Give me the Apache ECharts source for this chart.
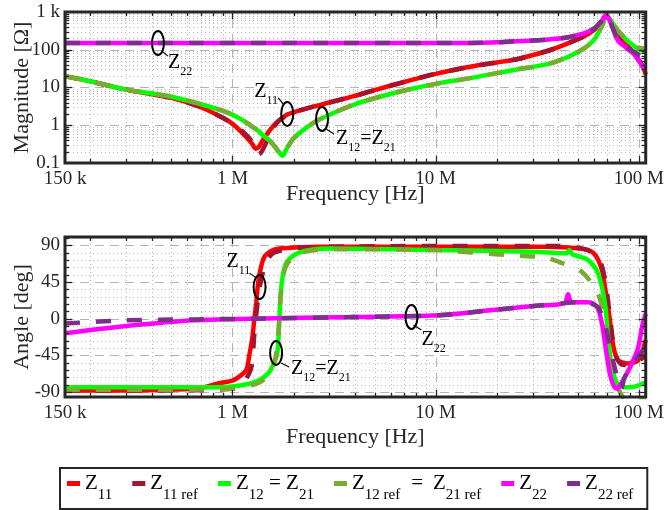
<!DOCTYPE html>
<html>
<head>
<meta charset="utf-8">
<script src="https://cdn.jsdelivr.net/npm/echarts@6/dist/echarts.min.js"></script>
<style>
  html, body { margin: 0; padding: 0; background: #fff; }
  #chart { width: 667px; height: 510px; }
</style>
</head>
<body>
<div id="chart"></div>
<script>
// Impedance of a two-port: magnitude (top) and phase (bottom) versus frequency.
const MHz = 1e6;
const F_MIN = 150e3, F_MAX = 108e6;
const MAG_MIN = 0.1, MAG_MAX = 1000;
const ANG_MIN = -96, ANG_MAX = 100;

// Axis tick labels
const freqTickValues = [150e3, 1e6, 1e7, 1e8];
const freqTickLabels = ['150 k', '1 M', '10 M', '100 M'];
const magTickValues = [0.1, 1, 10, 100, 1000];
const magTickLabels = ['0.1', '1', '10', '100', '1 k'];
const angTickValues = [-90, -45, 0, 45, 90];
const angTickLabels = ['-90', '-45', '0', '45', '90'];

// Series names
const seriesNames = ['Z11', 'Z11 ref', 'Z12 = Z21', 'Z12 ref = Z21 ref', 'Z22', 'Z22 ref'];

// ---- Magnitude |Z| in ohm, sampled at magFreq (MHz) ----
const magFreq = [0.15, 0.2, 0.3, 0.5, 0.7, 0.9, 1.0, 1.1, 1.2, 1.25, 1.3, 1.35, 1.4, 1.5, 1.6,
  1.7, 1.76, 1.85, 2.0, 2.5, 3, 4, 5, 7, 10, 15, 20, 25, 30, 37, 45, 54, 60, 63, 66,
  69, 72, 75, 79, 84, 88, 94, 99, 104, 108];
const magZ11 = [20, 14.5, 8.8, 5.3, 3.0, 1.55, 1.1, 0.68, 0.42, 0.32, 0.24, 0.27, 0.38, 0.65, 1.0,
  1.35, 1.55, 1.9, 2.2, 3.1, 4.0, 6.0, 8.5, 14, 23, 36, 46, 56, 72, 100, 150, 230, 330, 420, 570,
  830, 600, 380, 260, 170, 125, 85, 56, 38, 22];
const magZ11ref = [20, 14.5, 8.8, 5.3, 3.0, 1.55, 1.1, 0.75, 0.48, 0.36, 0.25, 0.17, 0.21, 0.45, 0.9,
  1.35, 1.55, 1.9, 2.2, 3.1, 4.0, 6.0, 8.5, 14, 23, 36, 46, 56, 72, 100, 150, 230, 330, 420, 570,
  830, 600, 380, 260, 170, 125, 85, 56, 38, 22];
const magZ12 = [20, 14.5, 8.8, 5.7, 3.6, 2.4, 1.9, 1.45, 1.08, 0.92, 0.8, 0.68, 0.57, 0.42, 0.29,
  0.19, 0.155, 0.24, 0.45, 1.15, 1.9, 3.6, 5.2, 8.3, 12.5, 18, 24, 30, 35, 44, 65, 110, 180, 275, 450,
  800, 650, 470, 320, 220, 170, 130, 105, 95, 90];
const magZ12ref = [20, 14.5, 8.8, 5.7, 3.6, 2.4, 1.9, 1.45, 1.08, 0.92, 0.8, 0.68, 0.57, 0.42, 0.29,
  0.19, 0.155, 0.24, 0.45, 1.15, 1.9, 3.6, 5.2, 8.3, 12.5, 18, 24, 30, 35, 44, 65, 110, 180, 275, 450,
  800, 650, 470, 320, 220, 170, 135, 115, 110, 105];
const magZ22 = [150, 150, 150, 150, 150, 150, 150, 150, 150, 150, 150, 150, 150, 150, 150,
  150, 150, 150, 150, 150, 150, 150, 150, 150, 150, 152, 158, 168, 175, 190, 215, 275, 360, 460, 600,
  820, 580, 330, 170, 130, 105, 80, 57, 36, 30];
const magZ22ref = [150, 150, 150, 150, 150, 150, 150, 150, 150, 150, 150, 150, 150, 150, 150,
  150, 150, 150, 150, 150, 150, 150, 150, 150, 150, 152, 158, 168, 175, 190, 215, 275, 360, 460, 600,
  820, 580, 330, 170, 130, 110, 90, 75, 65, 60];

// ---- Phase in degrees, each curve with its own frequency points (MHz) ----
const angZ11F = [0.15, 0.3, 0.5, 0.7, 0.86, 1.0, 1.08, 1.17, 1.21, 1.25, 1.28, 1.31, 1.33, 1.36, 1.43,
  1.55, 1.7, 2.67, 10, 30, 45, 56, 60, 63, 66, 68, 70, 72, 75, 79, 84, 88, 94, 99, 104, 108];
const angZ11 = [-88, -88, -87, -85, -79, -76, -71, -63, -45, -25, -2, 20, 38, 55, 75,
  83, 86, 88, 88, 88, 87, 84, 80, 72, 58, 39, 20, -2, -35, -51, -54, -55, -54, -51, -40, -26];
const angZ11refF = [0.15, 0.5, 1.0, 1.1, 1.21, 1.25, 1.28, 1.31, 1.36, 1.43, 1.5, 1.61, 2.0, 3, 10,
  40, 50, 56, 60, 65, 69, 73, 76.5, 82, 91, 102, 108];
const angZ11ref = [-88, -88, -86, -82, -67, -55, -20, 5, 38, 62, 74, 81, 86, 88, 89,
  89, 87, 84, 78, 68, 39, -10, -43, -56, -57, -50, -45];
const angZ12F = [0.15, 0.5, 0.86, 1.2, 1.36, 1.5, 1.57, 1.66, 1.70, 1.74, 1.84, 2.13, 3, 10, 30,
  44, 45.5, 47, 56, 63, 68, 70.5, 73, 76.5, 80, 85, 92, 99, 108];
const angZ12 = [-84, -84, -84, -80, -75, -67, -59, -43, -2, 39, 68, 81, 86, 84, 82,
  80, 84, 79, 72, 55, 19, -22, -55, -75, -82, -84, -84, -82, -78];
const angZ12refF = [0.15, 0.5, 1.0, 1.36, 1.5, 1.6, 1.66, 1.70, 1.74, 1.84, 2.13, 3, 10, 15, 26,
  34.5, 41, 52, 63, 68, 72, 76.5, 79, 82, 86, 108];
const angZ12ref = [-87, -87, -86, -78, -68, -55, -35, 0, 35, 65, 80, 85, 84, 81, 77,
  75, 69, 58, 30, -6, -50, -71, -85, -93, -100, -100];
const angZ22F = [0.15, 0.2, 0.3, 0.45, 0.64, 1.25, 3.87, 10.3, 18, 32, 43, 44.8, 46.5, 50, 56,
  60, 63, 66, 69, 72, 75, 78, 81, 86, 91, 99, 104, 108];
const angZ22 = [-18, -14, -9, -5, -2, 0, 2, 4, 10, 16, 19, 30, 20, 20, 20,
  18, 12, -8, -40, -68, -82, -86, -81, -70, -58, -36, -8, 6];
const angZ22refF = [0.15, 0.3, 0.64, 1.25, 3.87, 10.3, 18, 32, 43, 50, 56, 60, 63, 68, 72,
  76.5, 79, 82, 85, 95, 108];
const angZ22ref = [-6, -2, -1, 0, 2, 4, 10, 16, 19, 20, 20, 17, 14, -6, -35,
  -63, -78, -85, -72, -53, -34];

// ---- Styling ----
const FONT = '"Liberation Serif", "Times New Roman", serif';
const INK = '#262626';
const COLORS = ['#ff0000', '#a2142f', '#00ff00', '#77ac30', '#ff00ff', '#7e2f8e'];
const DASHED = [false, true, false, true, false, true];

function labelPicker(values, labels) {
  return function (v) {
    for (let i = 0; i < values.length; i++) {
      if (Math.abs(v - values[i]) <= Math.abs(values[i]) * 1e-6 + 1e-9) return labels[i];
    }
    return '';
  };
}

function lineSeries(idx, gi, F, V) {
  return {
    name: seriesNames[idx], type: 'line', xAxisIndex: gi, yAxisIndex: gi,
    data: F.map((f, i) => [f * MHz, V[i]]),
    showSymbol: false, symbol: 'none', smooth: 0.3, silent: true,
    lineStyle: { color: COLORS[idx], width: 4.5, type: DASHED[idx] ? [15, 16] : 'solid', cap: 'butt' },
    itemStyle: { color: COLORS[idx] },
    z: 3
  };
}

// minor/major positions for the grid and the tick marks
function logMarks(lo, hi) {
  const out = [];
  for (let e = -2; e <= 9; e++) {
    for (let k = 1; k <= 9; k++) {
      const v = k * Math.pow(10, e);
      if (v > lo * 1.0001 && v < hi * 0.9999) out.push([v, k === 1 ? 2 : 1]);
    }
  }
  return out;
}
function linMarks(lo, hi, step, majorStep) {
  const out = [];
  for (let v = Math.ceil(lo / step) * step; v <= hi; v += step) {
    if (v > lo && v < hi) out.push([v, v % majorStep === 0 ? 2 : 1]);
  }
  return out;
}

function markSeries(gi, dir, marks, lo, hi, ref, layer) {
  return {
    type: 'custom', xAxisIndex: gi, yAxisIndex: gi, silent: true,
    z: layer === 'grid' ? 1 : 6,
    data: marks.map(m => dir === 'v' ? [m[0], ref, m[1]] : [ref, m[0], m[1]]),
    encode: { x: 0, y: 1 },
    renderItem: function (params, api) {
      const major = api.value(2) > 1;
      let a, b;
      if (dir === 'v') {
        const v = api.value(0);
        a = api.coord([v, lo]); b = api.coord([v, hi]);
      } else {
        const v = api.value(1);
        a = api.coord([lo, v]); b = api.coord([hi, v]);
      }
      if (layer === 'grid') {
        const style = major
          ? { stroke: '#b4b4b4', lineWidth: 1, lineDash: [9, 6] }
          : { stroke: '#b9b9b9', lineWidth: 1, lineDash: [1, 3] };
        if (dir === 'v') {
          const x = Math.round(a[0]) + 0.5;
          return { type: 'line', shape: { x1: x, y1: a[1], x2: x, y2: b[1] }, style };
        }
        const y = Math.round(a[1]) + 0.5;
        return { type: 'line', shape: { x1: a[0], y1: y, x2: b[0], y2: y }, style };
      }
      const len = major ? 7 : 4;
      const ts = { stroke: INK, lineWidth: 1.3 };
      if (dir === 'v') {
        const x = Math.round(a[0]) + 0.5;
        return { type: 'group', children: [
          { type: 'line', shape: { x1: x, y1: a[1], x2: x, y2: a[1] - len }, style: ts },
          { type: 'line', shape: { x1: x, y1: b[1], x2: x, y2: b[1] + len }, style: ts }
        ] };
      }
      const y = Math.round(a[1]) + 0.5;
      return { type: 'group', children: [
        { type: 'line', shape: { x1: a[0], y1: y, x2: a[0] + len, y2: y }, style: ts },
        { type: 'line', shape: { x1: b[0], y1: y, x2: b[0] - len, y2: y }, style: ts }
      ] };
    }
  };
}

const freqMarks = logMarks(F_MIN, F_MAX);
const magMarks = logMarks(MAG_MIN, MAG_MAX);
const angMarks = linMarks(ANG_MIN, ANG_MAX, 9, 45);

const axisLabelStyle = { fontFamily: FONT, fontSize: 19, color: INK };
const nameStyle = { fontFamily: FONT, fontSize: 22, color: INK };

function xAxisFor(gi, gap) {
  return {
    type: 'log', logBase: 10, gridIndex: gi, min: F_MIN, max: F_MAX,
    name: 'Frequency [Hz]', nameLocation: 'middle', nameGap: gap, nameMoveOverlap: false,
    nameTextStyle: nameStyle,
    axisLine: { show: false }, axisTick: { show: false }, splitLine: { show: false },
    axisLabel: Object.assign({ margin: 7, formatter: labelPicker(freqTickValues, freqTickLabels) }, axisLabelStyle)
  };
}

const legendRich = {
  'Z11': '{m|Z}{s|11}',
  'Z11 ref': '{m|Z}{s|11 ref}',
  'Z12 = Z21': '{m|Z}{s|12}{m| = Z}{s|21}',
  'Z12 ref = Z21 ref': '{m|Z}{s|12 ref}{e|=}{m|Z}{s|21 ref}',
  'Z22': '{m|Z}{s|22}',
  'Z22 ref': '{m|Z}{s|22 ref}'
};

const option = {
  animation: false,
  backgroundColor: '#fff',
  grid: [
    { left: 65, top: 12, width: 583, height: 151 },
    { left: 65, top: 237, width: 583, height: 160 }
  ],
  xAxis: [xAxisFor(0, 20), xAxisFor(1, 29)],
  yAxis: [
    {
      type: 'log', logBase: 10, gridIndex: 0, min: MAG_MIN, max: MAG_MAX,
      name: 'Magnitude [Ω]', nameLocation: 'middle', nameGap: 32, nameMoveOverlap: false,
      nameTextStyle: nameStyle,
      axisLine: { show: false }, axisTick: { show: false }, splitLine: { show: false },
      axisLabel: Object.assign({ margin: 5, formatter: labelPicker(magTickValues, magTickLabels) }, axisLabelStyle)
    },
    {
      type: 'value', gridIndex: 1, min: ANG_MIN, max: ANG_MAX,
      name: 'Angle [deg]', nameLocation: 'middle', nameGap: 32, nameMoveOverlap: false,
      nameTextStyle: nameStyle,
      axisLine: { show: false }, axisTick: { show: false }, splitLine: { show: false },
      axisLabel: Object.assign({ margin: 5, customValues: angTickValues,
        formatter: labelPicker(angTickValues, angTickLabels) }, axisLabelStyle)
    }
  ],
  legend: {
    data: seriesNames,
    left: 60, top: 468,
    icon: 'rect', itemWidth: 13, itemHeight: 5, itemGap: 20,
    padding: [5, 14, 6, 7],
    borderColor: INK, borderWidth: 2,
    selectedMode: false,
    formatter: name => legendRich[name],
    textStyle: {
      fontFamily: FONT, color: '#000',
      rich: {
        m: { fontFamily: FONT, fontSize: 21, lineHeight: 21, verticalAlign: 'top', color: '#000' },
        e: { fontFamily: FONT, fontSize: 21, lineHeight: 21, padding: [0, 10, 0, 11], verticalAlign: 'top', color: '#000' },
        s: { fontFamily: FONT, fontSize: 15, lineHeight: 15, padding: [15, 0, 0, 0], verticalAlign: 'top', color: '#000' }
      }
    }
  },
  series: [
    markSeries(0, 'v', freqMarks, MAG_MIN, MAG_MAX, 1, 'grid'),
    markSeries(0, 'h', magMarks, F_MIN, F_MAX, 1e6, 'grid'),
    markSeries(1, 'v', freqMarks, ANG_MIN, ANG_MAX, 0, 'grid'),
    markSeries(1, 'h', angMarks, F_MIN, F_MAX, 1e6, 'grid'),
    lineSeries(0, 0, magFreq, magZ11),
    lineSeries(1, 0, magFreq, magZ11ref),
    lineSeries(2, 0, magFreq, magZ12),
    lineSeries(3, 0, magFreq, magZ12ref),
    lineSeries(4, 0, magFreq, magZ22),
    lineSeries(5, 0, magFreq, magZ22ref),
    lineSeries(0, 1, angZ11F, angZ11),
    lineSeries(1, 1, angZ11refF, angZ11ref),
    lineSeries(2, 1, angZ12F, angZ12),
    lineSeries(3, 1, angZ12refF, angZ12ref),
    lineSeries(4, 1, angZ22F, angZ22),
    lineSeries(5, 1, angZ22refF, angZ22ref),
    markSeries(0, 'v', freqMarks, MAG_MIN, MAG_MAX, 1, 'tick'),
    markSeries(0, 'h', magMarks, F_MIN, F_MAX, 1e6, 'tick'),
    markSeries(1, 'v', freqMarks, ANG_MIN, ANG_MAX, 0, 'tick'),
    markSeries(1, 'h', angMarks, F_MIN, F_MAX, 1e6, 'tick')
  ]
};

const chart = echarts.init(document.getElementById('chart'), null, { renderer: 'canvas' });
chart.setOption(option);

// ---- Frames and curve annotations, placed through the axes ----
const annRich = {
  m: { fontFamily: FONT, fontSize: 20, lineHeight: 20, verticalAlign: 'top', fill: '#000' },
  s: { fontFamily: FONT, fontSize: 12, lineHeight: 12, padding: [13, 0, 0, 0], verticalAlign: 'top', fill: '#000' }
};
const notes = [
  { gi: 0, at: [0.43 * MHz, 150], text: '{m|Z}{s|22}', dx: 10, dy: 10, lead: [4, 8, 10, 13] },
  { gi: 0, at: [1.86 * MHz, 2.0], text: '{m|Z}{s|11}', dx: -33, dy: -32, lead: [-9, -16, -4, -10] },
  { gi: 0, at: [2.76 * MHz, 1.46], text: '{m|Z}{s|12}{m|=Z}{s|21}', dx: 14, dy: 10, lead: [4, 10, 12, 15] },
  { gi: 1, at: [1.36 * MHz, 38.6], text: '{m|Z}{s|11}', dx: -33, dy: -35, lead: [-10, -14, -3, -9] },
  { gi: 1, at: [1.64 * MHz, -42], text: '{m|Z}{s|12}{m|=Z}{s|21}', dx: 15, dy: 6, lead: [5, 10, 13, 14] },
  { gi: 1, at: [7.6 * MHz, 2], text: '{m|Z}{s|22}', dx: 10, dy: 13, lead: [2, 8, 10, 13] }
];

const graphics = [];
[[0, [F_MIN, MAG_MAX], [F_MAX, MAG_MIN]], [1, [F_MIN, ANG_MAX], [F_MAX, ANG_MIN]]].forEach(function (d) {
  const p0 = chart.convertToPixel({ gridIndex: d[0] }, d[1]);
  const p1 = chart.convertToPixel({ gridIndex: d[0] }, d[2]);
  graphics.push({
    type: 'rect', z: 100, silent: true,
    shape: { x: p0[0], y: p0[1], width: p1[0] - p0[0], height: p1[1] - p0[1] },
    style: { fill: 'none', stroke: INK, lineWidth: 3 }
  });
});
notes.forEach(function (n) {
  const c = chart.convertToPixel({ gridIndex: n.gi }, n.at);
  graphics.push({
    type: 'ellipse', z: 101, silent: true,
    shape: { cx: c[0], cy: c[1], rx: 6, ry: 12 },
    style: { fill: 'none', stroke: '#000', lineWidth: 2 }
  });
  graphics.push({
    type: 'line', z: 101, silent: true,
    shape: { x1: c[0] + n.lead[0], y1: c[1] + n.lead[1], x2: c[0] + n.lead[2], y2: c[1] + n.lead[3] },
    style: { stroke: '#000', lineWidth: 1.2 }
  });
  graphics.push({
    type: 'text', z: 101, silent: true,
    x: c[0] + n.dx, y: c[1] + n.dy,
    style: { text: n.text, rich: annRich, fontFamily: FONT, fill: '#000', align: 'left', verticalAlign: 'top' }
  });
});
chart.setOption({ graphic: graphics });
</script>
</body>
</html>
